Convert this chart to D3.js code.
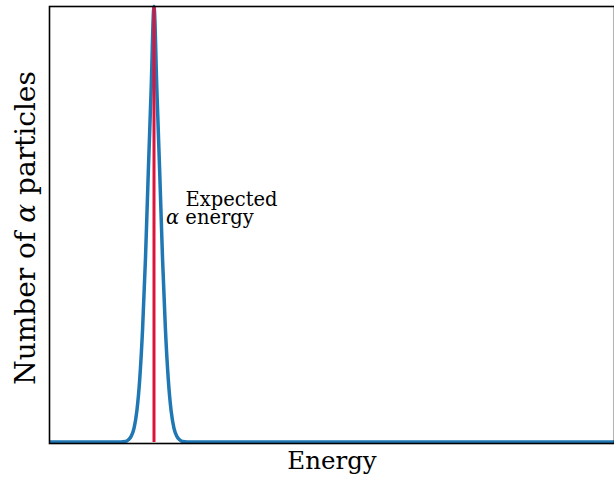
<!DOCTYPE html>
<html>
<head>
<meta charset="utf-8">
<script src="https://cdn.jsdelivr.net/npm/d3@7"></script>
<style>
  body { margin: 0; background: #fff; }
  text { font-family: "DejaVu Serif", serif; fill: #000; }
</style>
</head>
<body>
<div id="chart"></div>
<script>
// energy samples (arbitrary units) and counts
var energy = [0, 0.75, 0.8, 0.83, 0.86, 0.89, 0.92, 0.95, 0.98, 1.01, 1.04, 1.07, 1.10,
              1.13, 1.16, 1.19, 1.22, 1.25, 1.28, 1.31, 1.34, 1.37, 1.40, 1.45, 6];
var counts = [0, 0, 0.1, 0.5, 1.3, 3.2, 7.2, 14.5, 26, 42, 62, 81, 100,
              81, 62, 42, 26, 14.5, 7.2, 3.2, 1.3, 0.5, 0.1, 0, 0];
var expectedEnergy = 1.10;

var svgWidth = 614;
var svgHeight = 485;

var svg = d3.select("#chart")
    .append("svg")
    .attr("width", svgWidth)
    .attr("height", svgHeight);

// plot box in pixels
var box = { left: 49.5, right: 614.5, top: 6.5, bottom: 443.5 };

var xScale = d3.scaleLinear()
    .domain([0, 6])
    .range([box.left, box.left + 6 * 95]);

var yScale = d3.scaleLinear()
    .domain([0, 100])
    .range([442, 6.5]);

var points = energy.map(function (e, i) { return [e, counts[i]]; });

var line = d3.line()
    .x(d => xScale(d[0]))
    .y(d => yScale(d[1]))
    .curve(d3.curveMonotoneX);

svg.append("path")
    .datum(points)
    .attr("d", line)
    .attr("fill", "none")
    .attr("stroke", "#1f77b4")
    .attr("stroke-width", 3.5);

// expected energy marker
svg.append("line")
    .attr("x1", xScale(expectedEnergy))
    .attr("x2", xScale(expectedEnergy))
    .attr("y1", yScale(0))
    .attr("y2", yScale(100))
    .attr("stroke", "#dc143c")
    .attr("stroke-width", 3);

// frame
svg.append("rect")
    .attr("x", box.left)
    .attr("y", box.top)
    .attr("width", box.right - box.left)
    .attr("height", box.bottom - box.top)
    .attr("fill", "none")
    .attr("stroke", "#000")
    .attr("stroke-width", 1.6);

// annotation
svg.append("text")
    .attr("x", 185.5)
    .attr("y", 205.5)
    .attr("font-size", "19.5px")
    .text("Expected");

var t2 = svg.append("text")
    .attr("x", 166)
    .attr("y", 224)
    .attr("font-size", "19.5px");
t2.append("tspan").attr("font-style", "italic").text("α");
t2.append("tspan").text(" energy");

// axis labels
svg.append("text")
    .attr("x", (box.left + box.right) / 2)
    .attr("y", 469)
    .attr("text-anchor", "middle")
    .attr("font-size", "24.5px")
    .text("Energy");

var yl = svg.append("text")
    .attr("transform", "translate(35, 228) rotate(-90)")
    .attr("text-anchor", "middle")
    .attr("font-size", "28px");
yl.append("tspan").text("Number of ");
yl.append("tspan").attr("font-style", "italic").text("α");
yl.append("tspan").text(" particles");
</script>
</body>
</html>
